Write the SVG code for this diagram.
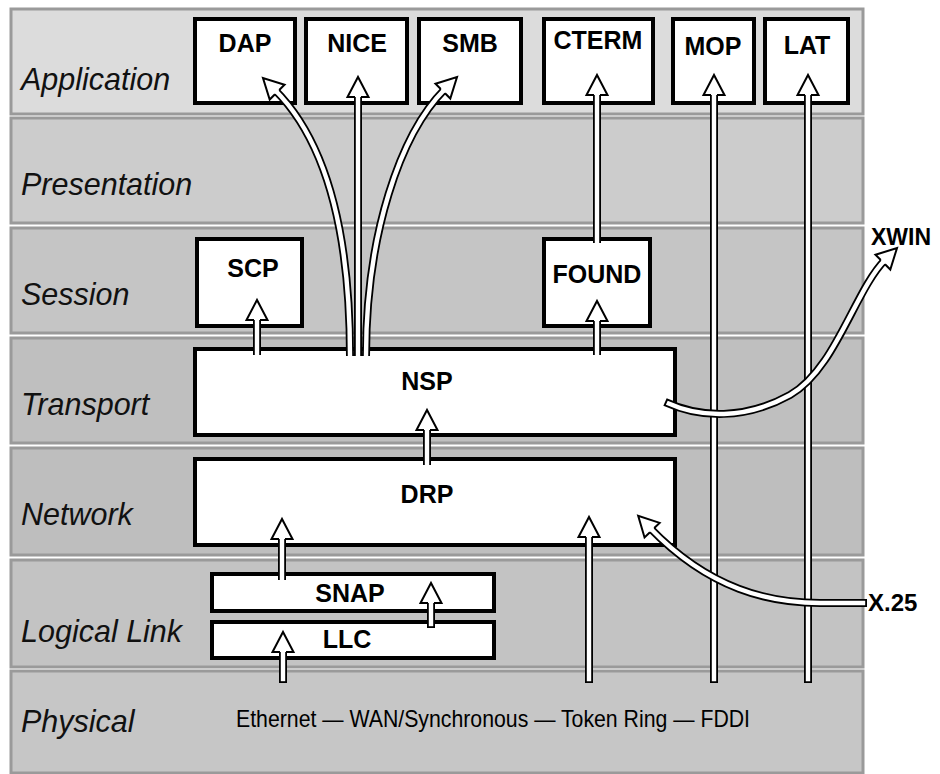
<svg xmlns="http://www.w3.org/2000/svg" width="940" height="774" viewBox="0 0 940 774">
<defs>
<style>
.band{stroke:#9a9a9a;stroke-width:3}
.lay{font-family:"Liberation Sans",Arial,sans-serif;font-style:italic;font-size:30.5px;fill:#111}
.box{fill:#fff;stroke:#000;stroke-width:4}
.lbl{font-family:"Liberation Sans",Arial,sans-serif;font-weight:bold;font-size:25px;fill:#000;text-anchor:middle}
.ext{font-family:"Liberation Sans",Arial,sans-serif;font-weight:bold;font-size:23px;fill:#000}
.phy{font-family:"Liberation Sans",Arial,sans-serif;font-size:24px;fill:#000}
.sb{fill:none;stroke:#000;stroke-width:8}
.sw{fill:none;stroke:#fff;stroke-width:4.4;marker-end:url(#head)}
</style>
<marker id="head" markerUnits="userSpaceOnUse" orient="auto" viewBox="-6 -14 26 28" markerWidth="26" markerHeight="28" refX="0" refY="0">
<path d="M-3,-10.5 L17,0 L-3,10.5 Z" fill="#fff" stroke="none"/>
<path d="M-3,-3 L-3,-10.5 L17,0 L-3,10.5 L-3,3" fill="none" stroke="#000" stroke-width="2" stroke-linejoin="miter"/>
</marker>
</defs>
<rect width="940" height="774" fill="#fff"/>
<g id="bands">
<rect class="band" x="11" y="9" width="852" height="105" fill="#dcdcdc"/>
<rect class="band" x="11" y="118" width="852" height="105" fill="#cccccc"/>
<rect class="band" x="11" y="228" width="852" height="105" fill="#c5c5c5"/>
<rect class="band" x="11" y="338" width="852" height="105" fill="#bfbfbf"/>
<rect class="band" x="11" y="448" width="852" height="107" fill="#bebebe"/>
<rect class="band" x="11" y="560" width="852" height="107" fill="#c3c3c3"/>
<rect class="band" x="11" y="671" width="852" height="102" fill="#c6c6c6"/>
<text class="lay" x="21" y="90">Application</text>
<text class="lay" x="21" y="195">Presentation</text>
<text class="lay" x="21" y="305">Session</text>
<text class="lay" x="21" y="415">Transport</text>
<text class="lay" x="21" y="525">Network</text>
<text class="lay" x="21" y="642">Logical Link</text>
<text class="lay" x="21" y="732">Physical</text>
<text class="phy" x="236" y="727" textLength="514" lengthAdjust="spacingAndGlyphs">Ethernet — WAN/Synchronous — Token Ring — FDDI</text>
</g>
<g id="DAP"><rect class="box" x="195" y="19" width="100" height="84"/><text class="lbl" x="245" y="52">DAP</text></g>
<g id="NICE"><rect class="box" x="306" y="19" width="101" height="84"/><text class="lbl" x="357" y="52">NICE</text></g>
<g id="SMB"><rect class="box" x="419" y="19" width="102" height="84"/><text class="lbl" x="470" y="52">SMB</text></g>
<g id="CTERM"><rect class="box" x="544" y="19" width="109" height="84"/><text class="lbl" x="598" y="49">CTERM</text></g>
<g id="MOP"><rect class="box" x="673" y="19" width="81" height="84"/><text class="lbl" x="713" y="55">MOP</text></g>
<g id="LAT"><rect class="box" x="765" y="19" width="83" height="84"/><text class="lbl" x="807" y="54">LAT</text></g>
<g id="SCP"><rect class="box" x="197" y="239" width="105" height="87"/><text class="lbl" x="253" y="277">SCP</text></g>
<g id="FOUND"><rect class="box" x="544" y="239" width="106" height="87"/><text class="lbl" x="597" y="283">FOUND</text></g>
<g id="NSP"><rect class="box" x="195" y="349" width="480" height="86"/><text class="lbl" x="427" y="390">NSP</text></g>
<g id="DRP"><rect class="box" x="195" y="459" width="480" height="86"/><text class="lbl" x="427" y="503">DRP</text></g>
<g id="SNAP"><rect class="box" x="212" y="574" width="282" height="37"/><text class="lbl" x="350" y="602">SNAP</text></g>
<g id="LLC"><rect class="box" x="212" y="622" width="282" height="36"/><text class="lbl" x="347" y="648">LLC</text></g>
<g id="XWIN"><text class="ext" x="871" y="245">XWIN</text></g>
<g id="X25"><text class="ext" x="868" y="611" style="font-size:24px">X.25</text></g>
<g id="connectors">
<path class="sb" d="M257,355 V317"/><path class="sw" d="M257,355 V317"/>
<path class="sb" d="M597,355 V318"/><path class="sw" d="M597,355 V318"/>
<path class="sb" d="M597,243 V92"/><path class="sw" d="M597,243 V92"/>
<path class="sb" d="M427,465 V427"/><path class="sw" d="M427,465 V427"/>
<path class="sb" d="M282,580 V536"/><path class="sw" d="M282,580 V536"/>
<path class="sb" d="M431,628 V600"/><path class="sw" d="M431,626.2 V600"/>
<path class="sb" d="M283,683 V649"/><path class="sw" d="M283,681.2 V649"/>
<path class="sb" d="M589,683 V534"/><path class="sw" d="M589,681.2 V534"/>
<path class="sb" d="M714,683 V92"/><path class="sw" d="M714,681.2 V92"/>
<path class="sb" d="M808,683 V92"/><path class="sw" d="M808,681.2 V92"/>
<path class="sb" d="M350,356 C350,240 330,145 275,90"/><path class="sw" d="M350,356 C350,240 330,145 275,90"/>
<path class="sb" d="M366,356 C366,235 400,134 445,89"/><path class="sw" d="M366,356 C366,235 400,134 445,89"/>
<path class="sb" d="M358,356 V94"/><path class="sw" d="M358,356 V94"/>
<path class="sb" d="M665,402 C700,418 745,420 790,395 S855,290 885,260"/><path class="sw" d="M666.8,402.8 C700,418 745,420 790,395 S855,290 885,260"/>
<path class="sb" d="M867,603 L820,603 C770,603 710,590 650,528"/><path class="sw" d="M865.2,603 L820,603 C770,603 710,590 650,528"/>
</g>
</svg>
